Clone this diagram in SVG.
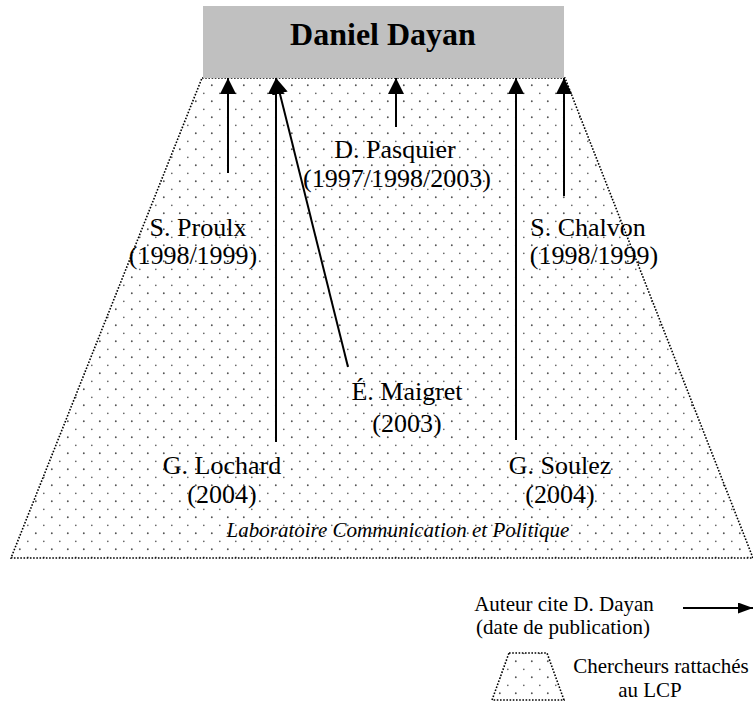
<svg xmlns="http://www.w3.org/2000/svg" width="753" height="710" viewBox="0 0 753 710">
<defs>
<pattern id="dots" patternUnits="userSpaceOnUse" x="0" y="0" width="16" height="16">
<circle cx="3.8" cy="5.3" r="0.95" fill="#555"/>
<circle cx="11.8" cy="13.3" r="0.85" fill="#666"/>
</pattern>
<marker id="head" markerUnits="userSpaceOnUse" markerWidth="17" markerHeight="17" refX="16" refY="8" orient="auto">
<path d="M0,0 L16,8 L0,16 z" fill="#000"/>
</marker>
<marker id="lhead" markerUnits="userSpaceOnUse" markerWidth="16" markerHeight="12" refX="15" refY="5.5" orient="auto">
<path d="M0,0 L15,5.5 L0,11 z" fill="#000"/>
</marker>
</defs>
<style>
.lbl{font-family:"Liberation Serif","Times New Roman",serif;font-size:26px;fill:#000;text-anchor:middle}
.leg{font-family:"Liberation Serif","Times New Roman",serif;font-size:21px;fill:#000;text-anchor:middle}
.zone{fill:url(#dots);stroke:#000;stroke-width:1.6;stroke-dasharray:1.6 1.6}
.arr{stroke:#000;stroke-width:2;fill:none;marker-end:url(#head)}
</style>
<g id="lcp">
<polygon class="zone" points="202,78 565,78 753,558 11,558"/>
<text x="398" y="537" font-family="'Liberation Serif','Times New Roman',serif" font-size="21" font-style="italic" text-anchor="middle">Laboratoire Communication et Politique</text>
</g>
<g id="dayan">
<rect x="203" y="6" width="361" height="72" fill="#c0c0c0"/>
<text x="383" y="45" font-family="'Liberation Serif','Times New Roman',serif" font-size="32" font-weight="bold" text-anchor="middle">Daniel Dayan</text>
</g>
<g id="connectors">
<line class="arr" x1="228" y1="173" x2="228" y2="78"/>
<line class="arr" x1="276" y1="442" x2="276" y2="78"/>
<line class="arr" x1="348" y1="367" x2="276" y2="78"/>
<line class="arr" x1="396" y1="127" x2="396" y2="78"/>
<line class="arr" x1="516" y1="440" x2="516" y2="78"/>
<line class="arr" x1="564" y1="196" x2="564" y2="78"/>
</g>
<g id="proulx"><text class="lbl" x="198" y="236">S. Proulx</text><text class="lbl" x="193" y="264">(1998/1999)</text></g>
<g id="pasquier"><text class="lbl" x="395" y="158">D. Pasquier</text><text class="lbl" x="397" y="187">(1997/1998/2003)</text></g>
<g id="chalvon"><text class="lbl" x="588" y="236">S. Chalvon</text><text class="lbl" x="594" y="264">(1998/1999)</text></g>
<g id="maigret"><text class="lbl" x="407" y="400">É. Maigret</text><text class="lbl" x="407" y="432">(2003)</text></g>
<g id="lochard"><text class="lbl" x="222" y="474">G. Lochard</text><text class="lbl" x="222" y="503">(2004)</text></g>
<g id="soulez"><text class="lbl" x="560" y="474">G. Soulez</text><text class="lbl" x="560" y="503">(2004)</text></g>
<g id="legend">
<text class="leg" x="564" y="611">Auteur cite D. Dayan</text>
<text class="leg" x="563" y="634">(date de publication)</text>
<line x1="683" y1="608" x2="753" y2="608" stroke="#000" stroke-width="2" marker-end="url(#lhead)"/>
<polygon class="zone" points="509,653 547,653 564,700 492,700"/>
<text class="leg" x="661" y="673">Chercheurs rattachés</text>
<text class="leg" x="650" y="697">au LCP</text>
</g>
</svg>
